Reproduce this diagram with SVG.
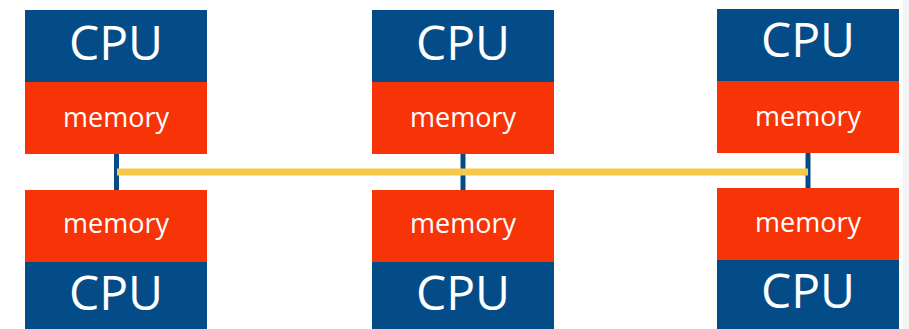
<svg xmlns="http://www.w3.org/2000/svg" width="909" height="329" viewBox="0 0 909 329">
<style>
.cpu{fill:#044c88}
.mem{fill:#f73408}
.t{fill:#ffffff;font-family:"Open Sans","Noto Sans",sans-serif;text-anchor:middle}
.tc{font-size:48px}
.tm{font-size:27px}
.v{stroke:#044c88;stroke-width:5}
.bus{stroke:#f6c94b;stroke-width:7}
</style>
<rect x="0" y="0" width="909" height="329" fill="#ffffff"/>
<rect x="903" y="0" width="6" height="329" fill="#f3f3f3"/>
<g id="connectors">
<line class="v" x1="116.5" y1="153" x2="116.5" y2="191"/>
<line class="v" x1="463" y1="153" x2="463" y2="191"/>
<line class="v" x1="808" y1="152" x2="808" y2="189"/>
<line class="bus" x1="117" y1="172" x2="808" y2="172"/>
</g>
<g id="cpu1"><rect class="cpu" x="25" y="10" width="182" height="72"/><text class="t tc" x="116" y="60">CPU</text></g>
<g id="mem1"><rect class="mem" x="25" y="82" width="182" height="72"/><text class="t tm" x="116" y="126.5">memory</text></g>
<g id="cpu2"><rect class="cpu" x="372" y="10" width="182" height="72"/><text class="t tc" x="463" y="60">CPU</text></g>
<g id="mem2"><rect class="mem" x="372" y="82" width="182" height="72"/><text class="t tm" x="463" y="126.5">memory</text></g>
<g id="cpu3"><rect class="cpu" x="717" y="9" width="182" height="72"/><text class="t tc" x="808" y="57">CPU</text></g>
<g id="mem3"><rect class="mem" x="717" y="81" width="182" height="72"/><text class="t tm" x="808" y="126">memory</text></g>
<g id="mem4"><rect class="mem" x="25" y="190" width="182" height="72"/><text class="t tm" x="116" y="233">memory</text></g>
<g id="cpu4"><rect class="cpu" x="25" y="262" width="182" height="67"/><text class="t tc" x="116" y="310">CPU</text></g>
<g id="mem5"><rect class="mem" x="372" y="190" width="182" height="72"/><text class="t tm" x="463" y="233">memory</text></g>
<g id="cpu5"><rect class="cpu" x="372" y="262" width="182" height="67"/><text class="t tc" x="463" y="310">CPU</text></g>
<g id="mem6"><rect class="mem" x="717" y="188" width="182" height="72"/><text class="t tm" x="808" y="231.5">memory</text></g>
<g id="cpu6"><rect class="cpu" x="717" y="260" width="182" height="69"/><text class="t tc" x="808" y="308">CPU</text></g>
</svg>
